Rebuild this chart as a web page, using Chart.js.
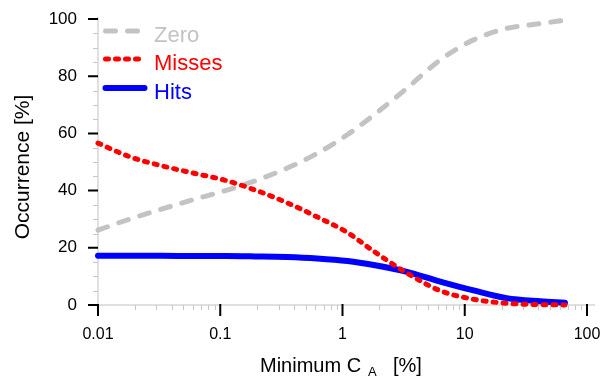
<!DOCTYPE html>
<html>
<head>
<meta charset="utf-8">
<script src="https://cdn.jsdelivr.net/npm/chart.js@4.4.1/dist/chart.umd.min.js"></script>
<style>
html,body{margin:0;padding:0;background:#fff;}
#c{display:block;}
</style>
</head>
<body>
<canvas id="c" width="603" height="376"></canvas>
<script>
// ---- data ----
const xValues      = [0.01, 0.018, 0.033, 0.062, 0.11, 0.19, 0.35, 0.62, 1.1, 1.8, 3.3, 6.3, 11.8, 22, 41.5, 66];
const zeroValues   = [26.2, 30.0, 33.5, 37.0, 40.0, 43.3, 47.8, 53.0, 59.6, 66.4, 75.5, 85.7, 92.7, 96.7, 98.4, 99.6];
const missesValues = [56.6, 51.9, 48.7, 46.0, 43.6, 40.3, 35.8, 30.8, 25.3, 18.8, 11.4, 5.0, 2.0, 0.6, 0.15, 0.0];
const hitsValues   = [17.2, 17.2, 17.2, 17.1, 17.1, 17.0, 16.8, 16.3, 15.4, 14.0, 11.7, 8.2, 5.1, 2.4, 1.3, 0.8];
const xTickValues  = [0.01, 0.1, 1, 10, 100];
const yTickValues  = [0, 20, 40, 60, 80, 100];
const seriesNames  = ['Zero', 'Misses', 'Hits'];

const FONT = '"Liberation Sans", Arial, Helvetica, sans-serif';
const GREY = '#c3c3c3', RED = '#ff0000', BLUE = '#0000ff';

const toPts = vals => xValues.map((x, i) => ({x: x, y: vals[i]}));

const styles = [
  {color: GREY, width: 5, dash: [10, 12], order: 2},
  {color: RED,  width: 5, dash: [3, 7], order: 0},
  {color: BLUE, width: 6, dash: [], order: 1}
];
const seriesData = [zeroValues, missesValues, hitsValues];

const axesPlugin = {
  id: 'axesPlugin',
  beforeDatasetsDraw(chart) {
    const ctx = chart.ctx, xs = chart.scales.x, ys = chart.scales.y, a = chart.chartArea;
    ctx.save();
    ctx.strokeStyle = '#d6d6d6'; ctx.lineWidth = 1.5;
    ctx.beginPath();
    ctx.moveTo(a.left, a.top - 2); ctx.lineTo(a.left, a.bottom);
    ctx.lineTo(595, a.bottom);
    ctx.stroke();
    ctx.strokeStyle = '#c8c8c8'; ctx.lineWidth = 1;
    ctx.beginPath();
    for (let d = -2; d <= 1; d++) {
      for (let k = 2; k <= 9; k++) {
        const px = Math.round(xs.getPixelForValue(k * Math.pow(10, d))) + 0.5;
        ctx.moveTo(px, a.bottom); ctx.lineTo(px, a.bottom + 5);
      }
    }
    for (let v = 5; v < 100; v += 5) {
      if (v % 20 === 0) continue;
      const py = Math.round(ys.getPixelForValue(v)) + 0.5;
      ctx.moveTo(a.left - 5, py); ctx.lineTo(a.left, py);
    }
    ctx.stroke();
    ctx.strokeStyle = '#000'; ctx.lineWidth = 2;
    ctx.beginPath();
    xTickValues.forEach(v => {
      const px = xs.getPixelForValue(v);
      ctx.moveTo(px, a.bottom - 1); ctx.lineTo(px, a.bottom + 11);
    });
    yTickValues.forEach(v => {
      const py = ys.getPixelForValue(v);
      ctx.moveTo(a.left - 10, py); ctx.lineTo(a.left, py);
    });
    ctx.stroke();
    ctx.restore();
  },
  afterDraw(chart) {
    const ctx = chart.ctx;
    ctx.save();
    const ly = [31, 59, 88], ty = [42, 70, 99];
    seriesNames.forEach((name, i) => {
      const s = styles[i];
      ctx.strokeStyle = s.color; ctx.lineWidth = s.width; ctx.lineCap = 'round';
      ctx.setLineDash(s.dash);
      ctx.beginPath(); ctx.moveTo(105.5, ly[i]); ctx.lineTo(144.5, ly[i]); ctx.stroke();
      ctx.setLineDash([]);
      ctx.fillStyle = s.color; ctx.font = '22px ' + FONT;
      ctx.textAlign = 'left'; ctx.textBaseline = 'alphabetic';
      ctx.fillText(name, 154, ty[i]);
    });
    ctx.fillStyle = '#000'; ctx.textBaseline = 'alphabetic'; ctx.textAlign = 'left';
    ctx.font = '20px ' + FONT;
    ctx.fillText('Minimum C', 260, 372);
    ctx.font = '13px ' + FONT;
    ctx.fillText('A', 368, 376);
    ctx.font = '20px ' + FONT;
    ctx.fillText('[%]', 393, 372);
    ctx.translate(23, 167); ctx.rotate(-Math.PI / 2);
    ctx.textAlign = 'center'; ctx.textBaseline = 'middle';
    ctx.font = '21px ' + FONT;
    ctx.fillText('Occurrence [%]', 0, 0);
    ctx.restore();
  }
};

new Chart(document.getElementById('c'), {
  type: 'line',
  data: {
    datasets: seriesNames.map((name, i) => ({
      label: name,
      data: toPts(seriesData[i]),
      borderColor: styles[i].color,
      backgroundColor: styles[i].color,
      borderWidth: styles[i].width,
      borderDash: styles[i].dash,
      borderCapStyle: 'round',
      borderJoinStyle: 'round',
      cubicInterpolationMode: 'monotone',
      pointRadius: 0,
      fill: false,
      clip: false,
      order: styles[i].order
    }))
  },
  options: {
    responsive: false,
    devicePixelRatio: 1,
    animation: false,
    layout: {padding: {left: 0, right: 16, top: 19, bottom: 0}},
    plugins: {legend: {display: false}, tooltip: {enabled: false}},
    scales: {
      x: {
        type: 'logarithmic', min: 0.01, max: 100,
        afterBuildTicks: s => { s.ticks = xTickValues.map(v => ({value: v, major: true})); },
        afterFit: s => { s.height = 71; s.paddingLeft = 0; s.paddingRight = 0; },
        grid: {display: false, drawTicks: false},
        border: {display: false},
        ticks: {
          autoSkip: false, maxRotation: 0, padding: 20,
          color: '#000', font: {family: FONT, size: 16},
          callback: v => String(v)
        }
      },
      y: {
        type: 'linear', min: 0, max: 100,
        afterBuildTicks: s => { s.ticks = yTickValues.map(v => ({value: v})); },
        afterFit: s => { s.width = 98; s.paddingTop = 0; s.paddingBottom = 0; },
        grid: {display: false, drawTicks: false},
        border: {display: false},
        ticks: {
          padding: 21, color: '#000', font: {family: FONT, size: 17},
          callback: v => String(v)
        }
      }
    }
  },
  plugins: [axesPlugin]
});
</script>
</body>
</html>
